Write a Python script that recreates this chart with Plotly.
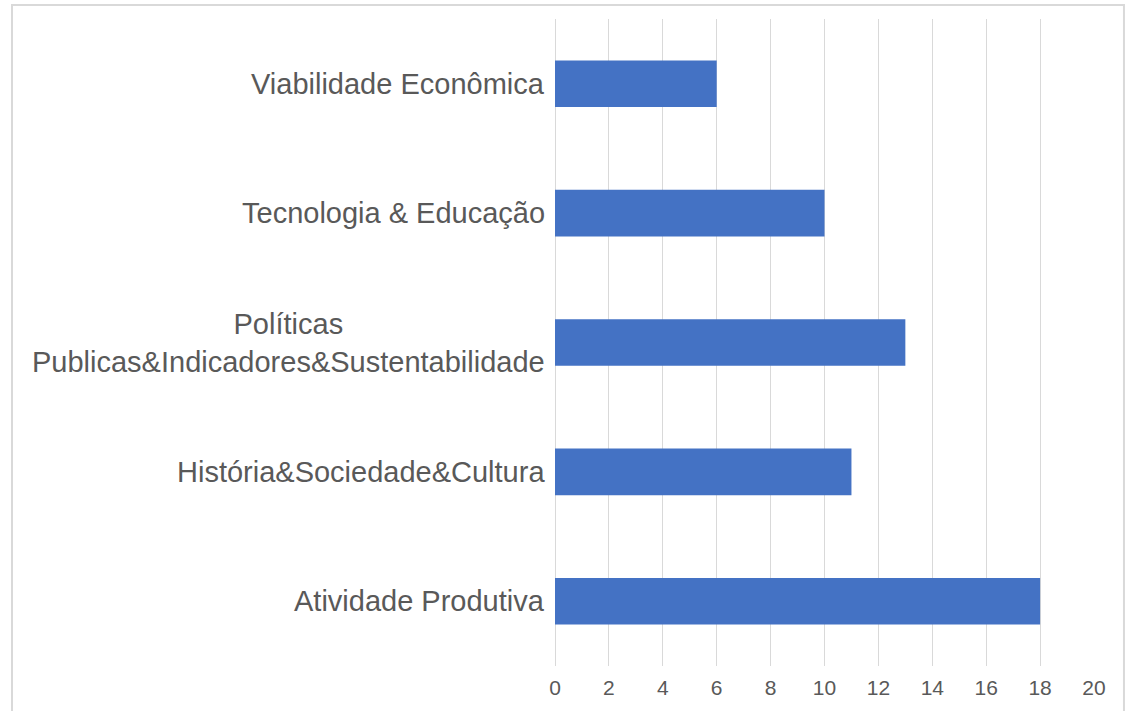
import plotly.graph_objects as go

categories = ["Atividade Produtiva", "História&Sociedade&Cultura",
              "Políticas<br>Publicas&Indicadores&Sustentabilidade",
              "Tecnologia & Educação", "Viabilidade Econômica"]
values = [18, 11, 13, 10, 6]
x_ticks = [0, 2, 4, 6, 8, 10, 12, 14, 16, 18, 20]

FONT = "Liberation Sans, Arial, sans-serif"

fig = go.Figure(go.Bar(
    y=categories, x=values, orientation="h",
    marker=dict(color="#4472C4", line=dict(width=0)),
))

for c in categories:
    fig.add_annotation(
        x=0, y=c, xref="paper", yref="y", xanchor="right", yanchor="middle",
        xshift=-8, text=c, showarrow=False, align="center",
        font=dict(family=FONT, size=29, color="#595959"),
    )

fig.add_shape(type="rect", xref="paper", yref="paper",
              x0=-1.0074, x1=1.0556, y0=-0.075, y1=1.0216,
              line=dict(color="#D9D9D9", width=2), fillcolor="rgba(0,0,0,0)", layer="below")

fig.update_layout(
    width=1126, height=711,
    margin=dict(l=555, r=32, t=19, b=43),
    paper_bgcolor="white", plot_bgcolor="white",
    bargap=0.64, showlegend=False,
    xaxis=dict(range=[0, 20], tickvals=x_ticks, showgrid=True, gridcolor="#D9D9D9",
               gridwidth=1.3, zeroline=True, zerolinecolor="#D9D9D9", zerolinewidth=1.3,
               showline=False, ticks="outside", ticklen=3, tickcolor="rgba(0,0,0,0)",
               tickfont=dict(family=FONT, size=21, color="#595959")),
    yaxis=dict(categoryorder="array", categoryarray=categories, showticklabels=False,
               showgrid=False, zeroline=False, showline=False, ticks=""),
)

fig.write_html("out.html", config={"displayModeBar": False},
               post_script="document.body.style.margin='0';document.body.style.overflow='hidden';")
